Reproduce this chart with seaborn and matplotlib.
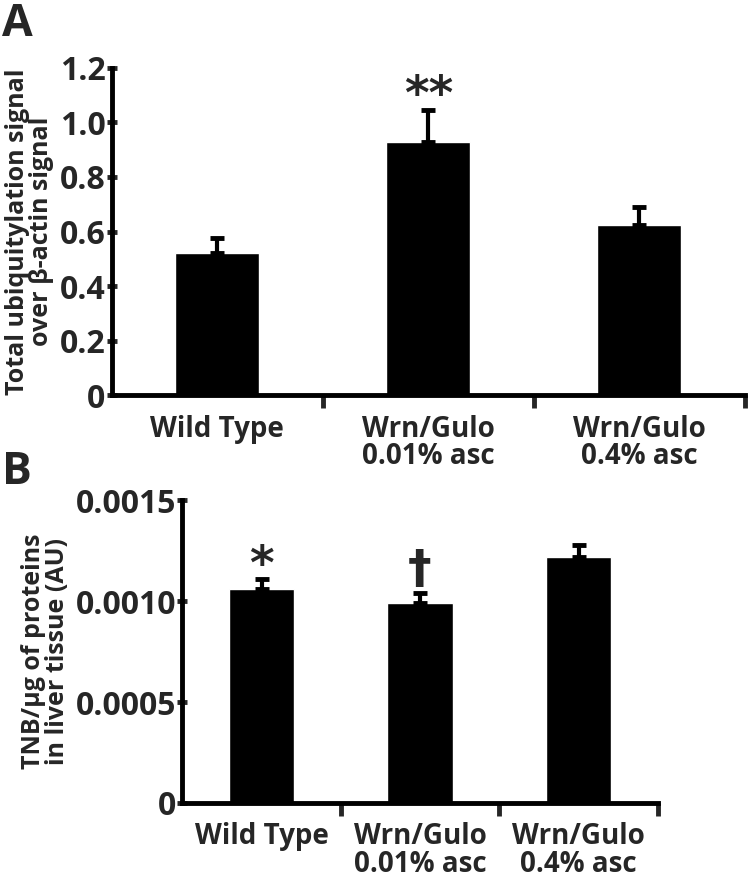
import matplotlib.pyplot as plt
import seaborn as sns
import numpy as np
import pandas as pd

# categories shared by both panels
groups = ["Wild Type", "Wrn/Gulo\n0.01% asc", "Wrn/Gulo\n0.4% asc"]

# panel A: total ubiquitylation over beta-actin
ubiq_mean = [0.52, 0.93, 0.625]
ubiq_err = [0.055, 0.115, 0.065]
ubiq_marks = ["", "**", ""]
ubiq_ticks = [0, 0.2, 0.4, 0.6, 0.8, 1.0, 1.2]
ubiq_ticklabels = ["0", "0.2", "0.4", "0.6", "0.8", "1.0", "1.2"]

# panel B: TNB per ug of protein
tnb_mean = [0.00106, 0.00099, 0.00122]
tnb_err = [0.00005, 0.00005, 0.00006]
tnb_marks = ["*", "\u2020", ""]
tnb_ticks = [0, 0.0005, 0.0010, 0.0015]
tnb_ticklabels = ["0", "0.0005", "0.0010", "0.0015"]

sns.set_style("ticks")
plt.rcParams['font.family'] = ['Open Sans', 'DejaVu Sans']
plt.rcParams['font.weight'] = 'bold'

LW = 3.5


def draw_panel(ax, means, errs, marks, ticks, ticklabels, ylabel,
               bar_width, tick_fs, label_fs, xlab_fs):
    df = pd.DataFrame({'group': groups, 'value': means})
    sns.barplot(data=df, x='group', y='value', color='black', saturation=1,
                width=bar_width, errorbar=None, ax=ax)
    x = np.arange(len(groups))
    ax.errorbar(x, means, yerr=[np.zeros(len(errs)), errs], fmt='none',
                ecolor='black', elinewidth=3, capsize=5, capthick=3.5)
    top = ticks[-1]
    for i, (m, e, s) in enumerate(zip(means, errs, marks)):
        if s:
            pad = 0.075 if s == "\u2020" else 0.042
            ax.text(i, m + e + pad * top, s, ha='center', va='center',
                    fontsize=34, fontweight='bold',
                    family=['DejaVu Sans'])
    ax.set_xlim(-0.5, 2.5)
    ax.set_ylim(0, top)
    ax.set_yticks(ticks)
    ax.set_yticklabels(ticklabels, fontsize=tick_fs, fontweight='bold')
    ax.set_xticklabels(groups, fontsize=xlab_fs, fontweight='bold',
                       linespacing=0.95)
    ax.set_xticks([0.5, 1.5, 2.5], minor=True)
    ax.tick_params(axis='x', which='major', length=0, pad=14)
    ax.tick_params(axis='x', which='minor', length=9, width=LW,
                   direction='out')
    ax.tick_params(axis='y', length=7, width=LW, direction='inout', pad=1)
    ax.set_xlabel('')
    ax.set_ylabel(ylabel, fontsize=label_fs, fontweight='bold',
                  linespacing=0.95, labelpad=4)
    for side in ['top', 'right']:
        ax.spines[side].set_visible(False)
    for side in ['left', 'bottom']:
        ax.spines[side].set_linewidth(LW)
        ax.spines[side].set_color('black')


fig = plt.figure(figsize=(7.5, 8.82), dpi=100)

ax_a = fig.add_axes([0.149, 0.552, 0.844, 0.371])
draw_panel(ax_a, ubiq_mean, ubiq_err, ubiq_marks, ubiq_ticks,
           ubiq_ticklabels,
           "Total ubiquitylation signal\nover \u03b2-actin signal",
           0.4, 23, 18, 20)

ax_b = fig.add_axes([0.243, 0.0896, 0.634, 0.3434])
draw_panel(ax_b, tnb_mean, tnb_err, tnb_marks, tnb_ticks, tnb_ticklabels,
           "TNB/\u03bcg of proteins\nin liver tissue (AU)",
           0.415, 23, 18, 20)

fig.text(0.003, 0.998, "A", fontsize=32, fontweight='bold', va='top')
fig.text(0.003, 0.49, "B", fontsize=32, fontweight='bold', va='top')

fig.savefig("out.png", dpi=100)
